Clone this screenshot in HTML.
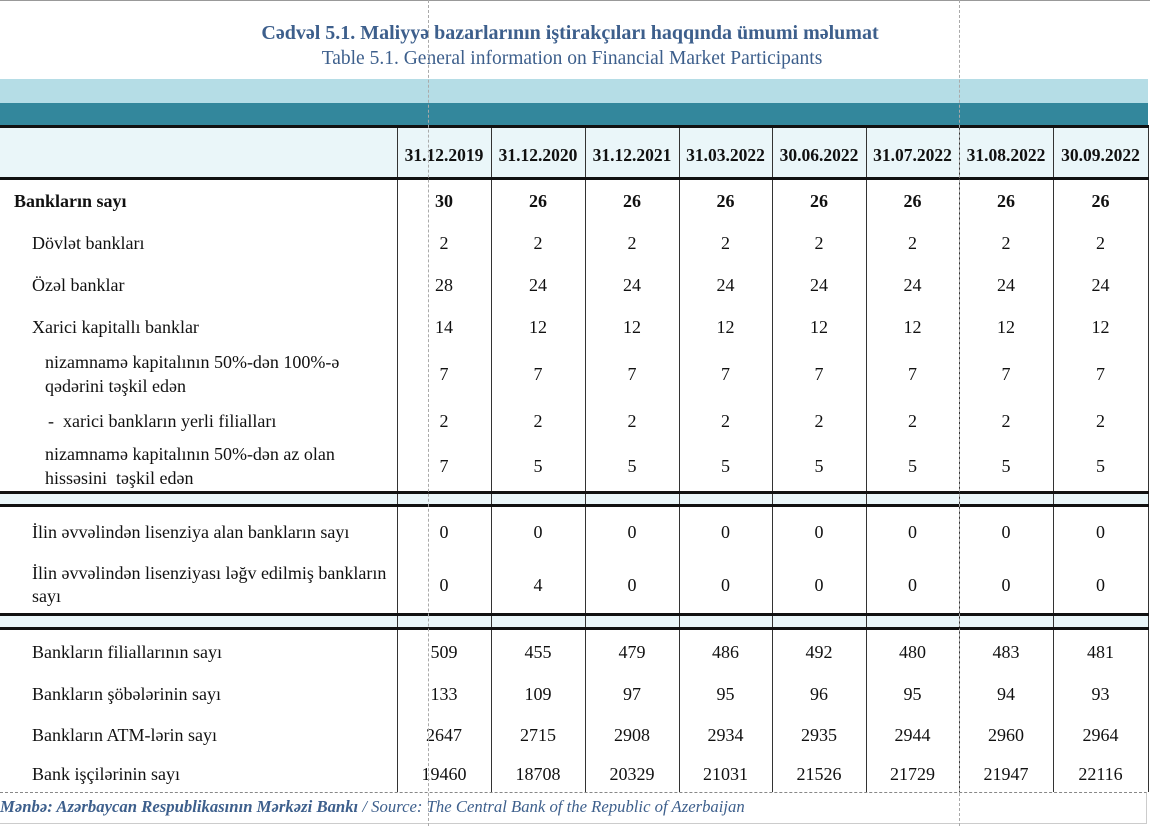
<!DOCTYPE html>
<html><head><meta charset="utf-8"><style>
body{margin:0;width:1150px;height:826px;background:#fff;position:relative;overflow:hidden;font-family:"Liberation Serif",serif;color:#111}
.t1{position:absolute;top:22px;left:0;width:1140px;text-align:center;font-weight:bold;font-size:20px;color:#3d5f8c}
.t2{position:absolute;top:48px;left:0;width:1144px;text-align:center;font-size:19.5px;color:#3d5f8c}
.b1{position:absolute;top:79px;left:0;width:1148px;height:24px;background:#b5dde6}
.b2{position:absolute;top:103px;left:0;width:1148px;height:23px;background:#33879c}
table{position:absolute;top:125px;left:0;border-collapse:collapse;table-layout:fixed;width:1148px}
td{border-left:1px solid #333;border-right:1px solid #333;padding:0;text-align:center;font-size:18px;line-height:22px;vertical-align:middle;white-space:nowrap}
td:first-child{text-align:left;border-left:none}
tr.hd td{background:#eaf6f9;font-weight:bold;font-size:17.5px;border-top:3px solid #111;border-bottom:3px solid #111}
tr.band td{background:#eaf6f9;border-top:3px solid #111;border-bottom:3px solid #111}
tr.bold td{font-weight:bold}
.dv{position:absolute;top:0;width:0;height:826px;border-left:1px dashed #aaa}
.src{position:absolute;top:797px;left:0;font-size:16.7px;font-style:italic;color:#3d5f8c;white-space:nowrap}
.bot{position:absolute;top:792px;left:0;width:1146px;height:30px;border-top:1px dashed #888;border-right:1px solid #ccc;border-bottom:1px solid #ccc}
.top{position:absolute;top:0;left:0;width:1150px;height:1px;background:#999}
</style></head><body>
<div class="top"></div>
<div class="t1">Cədvəl 5.1. Maliyyə bazarlarının iştirakçıları haqqında ümumi məlumat</div>
<div class="t2">Table 5.1. General information on Financial Market Participants</div>
<div class="b1"></div><div class="b2"></div>
<table>
<colgroup><col style="width:397px"><col style="width:94px"><col style="width:94px"><col style="width:94px"><col style="width:93px"><col style="width:94px"><col style="width:93px"><col style="width:94px"><col style="width:95px"></colgroup>
<tr class="hd" style="height:52px"><td></td><td style="padding-top:4px">31.12.2019</td><td style="padding-top:4px">31.12.2020</td><td style="padding-top:4px">31.12.2021</td><td style="padding-top:4px">31.03.2022</td><td style="padding-top:4px">30.06.2022</td><td style="padding-top:4px">31.07.2022</td><td style="padding-top:4px">31.08.2022</td><td style="padding-top:4px">30.09.2022</td></tr>
<tr class="bold" style="height:43px"><td style="padding-left:14px">Bankların sayı</td><td>30</td><td>26</td><td>26</td><td>26</td><td>26</td><td>26</td><td>26</td><td>26</td></tr>
<tr style="height:42px"><td style="padding-left:32px">Dövlət bankları</td><td>2</td><td>2</td><td>2</td><td>2</td><td>2</td><td>2</td><td>2</td><td>2</td></tr>
<tr style="height:42px"><td style="padding-left:32px">Özəl banklar</td><td>28</td><td>24</td><td>24</td><td>24</td><td>24</td><td>24</td><td>24</td><td>24</td></tr>
<tr style="height:42px"><td style="padding-left:32px">Xarici kapitallı banklar</td><td>14</td><td>12</td><td>12</td><td>12</td><td>12</td><td>12</td><td>12</td><td>12</td></tr>
<tr style="height:53px"><td style="padding-left:45px;line-height:24px">nizamnamə kapitalının 50%-dən 100%-ə<br>qədərini təşkil edən</td><td>7</td><td>7</td><td>7</td><td>7</td><td>7</td><td>7</td><td>7</td><td>7</td></tr>
<tr style="height:41px"><td style="padding-left:48px">-&nbsp; xarici bankların yerli filialları</td><td>2</td><td>2</td><td>2</td><td>2</td><td>2</td><td>2</td><td>2</td><td>2</td></tr>
<tr style="height:51px"><td style="padding-left:45px;line-height:24px">nizamnamə kapitalının 50%-dən az olan<br>hissəsini&nbsp; təşkil edən</td><td>7</td><td>5</td><td>5</td><td>5</td><td>5</td><td>5</td><td>5</td><td>5</td></tr>
<tr class="band" style="height:13px"><td></td><td></td><td></td><td></td><td></td><td></td><td></td><td></td><td></td></tr>
<tr style="height:52px"><td style="padding-left:32px">İlin əvvəlindən lisenziya alan bankların sayı</td><td>0</td><td>0</td><td>0</td><td>0</td><td>0</td><td>0</td><td>0</td><td>0</td></tr>
<tr style="height:57px"><td style="padding-left:32px;line-height:23px">İlin əvvəlindən lisenziyası ləğv edilmiş bankların<br>sayı</td><td>0</td><td>4</td><td>0</td><td>0</td><td>0</td><td>0</td><td>0</td><td>0</td></tr>
<tr class="band" style="height:14px"><td></td><td></td><td></td><td></td><td></td><td></td><td></td><td></td><td></td></tr>
<tr style="height:45px"><td style="padding-left:32px">Bankların filiallarının sayı</td><td>509</td><td>455</td><td>479</td><td>486</td><td>492</td><td>480</td><td>483</td><td>481</td></tr>
<tr style="height:41px"><td style="padding-left:32px">Bankların şöbələrinin sayı</td><td>133</td><td>109</td><td>97</td><td>95</td><td>96</td><td>95</td><td>94</td><td>93</td></tr>
<tr style="height:41px"><td style="padding-left:32px">Bankların ATM-lərin sayı</td><td>2647</td><td>2715</td><td>2908</td><td>2934</td><td>2935</td><td>2944</td><td>2960</td><td>2964</td></tr>
<tr style="height:36px"><td style="padding-left:32px">Bank işçilərinin sayı</td><td>19460</td><td>18708</td><td>20329</td><td>21031</td><td>21526</td><td>21729</td><td>21947</td><td>22116</td></tr>
</table>
<div class="bot"></div>
<div class="src"><b>Mənbə: Azərbaycan Respublikasının Mərkəzi Bankı</b> / Source: The Central Bank of the Republic of Azerbaijan</div>
<div class="dv" style="left:428px"></div>
<div class="dv" style="left:959px"></div>
</body></html>
